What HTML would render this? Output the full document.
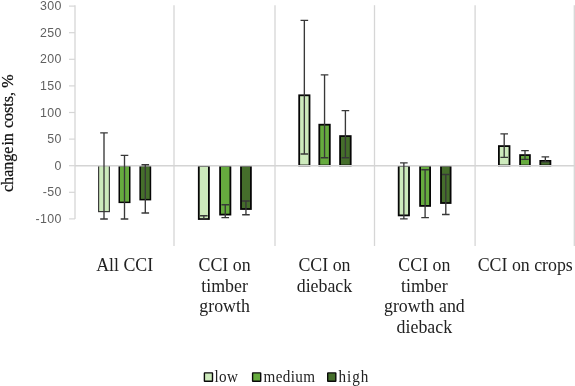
<!DOCTYPE html>
<html lang="en"><head><meta charset="utf-8"><title>Change in costs chart</title>
<style>html,body{margin:0;padding:0;background:#fff;}body{width:575px;height:386px;overflow:hidden;}svg{display:block;}.tick{font-family:"Liberation Sans",sans-serif;font-size:12.4px;fill:#606060;letter-spacing:0.4px;}.cat{font-family:"Liberation Serif",serif;font-size:18px;fill:#222;}.leg{font-family:"Liberation Serif",serif;font-size:16.3px;fill:#222;letter-spacing:0.4px;}.ttl{font-family:"Liberation Serif",serif;font-size:17px;fill:#111;stroke:#111;stroke-width:0.25px;}</style></head><body>
<svg width="575" height="386" viewBox="0 0 575 386">
<rect width="575" height="386" fill="#fff"/>
<line x1="75.00" y1="5.2" x2="75.00" y2="218.90" stroke="#d6d6d6" stroke-width="1.3"/>
<line x1="174.00" y1="5.2" x2="174.00" y2="246" stroke="#d6d6d6" stroke-width="1.3"/>
<line x1="275.00" y1="5.2" x2="275.00" y2="246" stroke="#d6d6d6" stroke-width="1.3"/>
<line x1="374.50" y1="5.2" x2="374.50" y2="246" stroke="#d6d6d6" stroke-width="1.3"/>
<line x1="475.10" y1="5.2" x2="475.10" y2="246" stroke="#d6d6d6" stroke-width="1.3"/>
<line x1="574.30" y1="5.2" x2="574.30" y2="246" stroke="#d6d6d6" stroke-width="1.3"/>
<line x1="69" y1="218.90" x2="75.0" y2="218.90" stroke="#d6d6d6" stroke-width="1.2"/>
<text class="tick" x="61.8" y="222.90" text-anchor="end">-100</text>
<line x1="69" y1="192.30" x2="75.0" y2="192.30" stroke="#d6d6d6" stroke-width="1.2"/>
<text class="tick" x="61.8" y="196.30" text-anchor="end">-50</text>
<line x1="69" y1="165.70" x2="75.0" y2="165.70" stroke="#d6d6d6" stroke-width="1.2"/>
<text class="tick" x="61.8" y="169.70" text-anchor="end">0</text>
<line x1="69" y1="139.10" x2="75.0" y2="139.10" stroke="#d6d6d6" stroke-width="1.2"/>
<text class="tick" x="61.8" y="143.10" text-anchor="end">50</text>
<line x1="69" y1="112.50" x2="75.0" y2="112.50" stroke="#d6d6d6" stroke-width="1.2"/>
<text class="tick" x="61.8" y="116.50" text-anchor="end">100</text>
<line x1="69" y1="85.90" x2="75.0" y2="85.90" stroke="#d6d6d6" stroke-width="1.2"/>
<text class="tick" x="61.8" y="89.90" text-anchor="end">150</text>
<line x1="69" y1="59.30" x2="75.0" y2="59.30" stroke="#d6d6d6" stroke-width="1.2"/>
<text class="tick" x="61.8" y="63.30" text-anchor="end">200</text>
<line x1="69" y1="32.70" x2="75.0" y2="32.70" stroke="#d6d6d6" stroke-width="1.2"/>
<text class="tick" x="61.8" y="36.70" text-anchor="end">250</text>
<line x1="69" y1="6.10" x2="75.0" y2="6.10" stroke="#d6d6d6" stroke-width="1.2"/>
<text class="tick" x="61.8" y="10.10" text-anchor="end">300</text>
<rect x="98.60" y="165.60" width="10.80" height="46.00" fill="#cdeabc" stroke="#3c3c3c" stroke-width="1.2"/>
<rect x="119.25" y="165.75" width="10.50" height="36.60" fill="#66ab3e" stroke="#060606" stroke-width="1.5"/>
<rect x="140.15" y="165.75" width="10.30" height="33.90" fill="#456e2b" stroke="#060606" stroke-width="1.5"/>
<rect x="198.80" y="165.90" width="10.10" height="53.10" fill="#cdeabc" stroke="#060606" stroke-width="1.8"/>
<rect x="220.10" y="165.90" width="10.30" height="48.70" fill="#66ab3e" stroke="#060606" stroke-width="1.8"/>
<rect x="241.00" y="165.90" width="9.90" height="43.10" fill="#456e2b" stroke="#060606" stroke-width="1.8"/>
<rect x="299.20" y="95.30" width="10.30" height="70.20" fill="#cdeabc" stroke="#060606" stroke-width="1.8"/>
<rect x="319.30" y="124.70" width="10.50" height="40.80" fill="#66ab3e" stroke="#060606" stroke-width="1.8"/>
<rect x="340.10" y="136.10" width="10.60" height="29.40" fill="#456e2b" stroke="#060606" stroke-width="1.8"/>
<rect x="398.70" y="165.90" width="10.30" height="49.50" fill="#cdeabc" stroke="#060606" stroke-width="1.8"/>
<rect x="420.10" y="165.90" width="10.00" height="40.00" fill="#66ab3e" stroke="#060606" stroke-width="1.8"/>
<rect x="441.00" y="165.90" width="9.60" height="37.10" fill="#456e2b" stroke="#060606" stroke-width="1.8"/>
<rect x="498.90" y="146.10" width="10.60" height="19.40" fill="#cdeabc" stroke="#060606" stroke-width="1.8"/>
<rect x="520.10" y="155.10" width="9.80" height="10.40" fill="#66ab3e" stroke="#060606" stroke-width="1.8"/>
<rect x="540.30" y="160.90" width="10.10" height="4.60" fill="#456e2b" stroke="#060606" stroke-width="1.8"/>
<line x1="75.0" y1="165.7" x2="574.30" y2="165.7" stroke="#d4d4d4" stroke-width="1.6"/>
<path d="M104.00 132.80V219.00M100.20 132.80H107.80M100.20 219.00H107.80" fill="none" stroke="#383838" stroke-width="1.35"/>
<path d="M124.50 155.30V219.00M120.70 155.30H128.30M120.70 219.00H128.30" fill="none" stroke="#383838" stroke-width="1.35"/>
<path d="M145.30 164.70V213.00M141.50 164.70H149.10M141.50 213.00H149.10" fill="none" stroke="#383838" stroke-width="1.35"/>
<path d="M203.85 215.70V218.80M200.05 215.70H207.65M200.05 218.80H207.65" fill="none" stroke="#383838" stroke-width="1.35"/>
<path d="M225.25 204.70V217.60M221.45 204.70H229.05M221.45 217.60H229.05" fill="none" stroke="#383838" stroke-width="1.35"/>
<path d="M245.95 201.00V214.70M242.15 201.00H249.75M242.15 214.70H249.75" fill="none" stroke="#383838" stroke-width="1.35"/>
<path d="M304.35 20.40V154.00M300.55 20.40H308.15M300.55 154.00H308.15" fill="none" stroke="#383838" stroke-width="1.35"/>
<path d="M324.55 74.90V157.70M320.75 74.90H328.35M320.75 157.70H328.35" fill="none" stroke="#383838" stroke-width="1.35"/>
<path d="M345.40 110.60V157.70M341.60 110.60H349.20M341.60 157.70H349.20" fill="none" stroke="#383838" stroke-width="1.35"/>
<path d="M403.85 162.80V218.80M400.05 162.80H407.65M400.05 218.80H407.65" fill="none" stroke="#383838" stroke-width="1.35"/>
<path d="M425.10 169.70V217.60M421.30 169.70H428.90M421.30 217.60H428.90" fill="none" stroke="#383838" stroke-width="1.35"/>
<path d="M445.80 174.50V214.50M442.00 174.50H449.60M442.00 214.50H449.60" fill="none" stroke="#383838" stroke-width="1.35"/>
<path d="M504.20 133.80V157.30M500.40 133.80H508.00M500.40 157.30H508.00" fill="none" stroke="#383838" stroke-width="1.35"/>
<path d="M525.00 150.60V159.30M521.20 150.60H528.80M521.20 159.30H528.80" fill="none" stroke="#383838" stroke-width="1.35"/>
<path d="M545.35 156.80V161.80M541.55 156.80H549.15M541.55 161.80H549.15" fill="none" stroke="#383838" stroke-width="1.35"/>
<text class="cat" transform="translate(124.65,271.10) scale(0.992,1)" text-anchor="middle">All CCI</text>
<text class="cat" transform="translate(224.55,271.10) scale(0.992,1)" text-anchor="middle">CCI on</text>
<text class="cat" transform="translate(224.55,291.65) scale(0.992,1)" text-anchor="middle">timber</text>
<text class="cat" transform="translate(224.55,312.20) scale(0.992,1)" text-anchor="middle">growth</text>
<text class="cat" transform="translate(324.45,271.10) scale(0.992,1)" text-anchor="middle">CCI on</text>
<text class="cat" transform="translate(324.45,291.65) scale(0.992,1)" text-anchor="middle">dieback</text>
<text class="cat" transform="translate(424.35,271.10) scale(0.992,1)" text-anchor="middle">CCI on</text>
<text class="cat" transform="translate(424.35,291.65) scale(0.992,1)" text-anchor="middle">timber</text>
<text class="cat" transform="translate(424.35,312.20) scale(0.992,1)" text-anchor="middle">growth and</text>
<text class="cat" transform="translate(424.35,332.75) scale(0.992,1)" text-anchor="middle">dieback</text>
<text class="cat" transform="translate(525.25,271.10) scale(0.992,1)" text-anchor="middle">CCI on crops</text>
<text class="ttl" transform="translate(12.5,192.0) rotate(-90) scale(0.945,1)">change<tspan dx="-3.2"> in</tspan><tspan dx="1.1"> costs,</tspan><tspan dx="0.3"> %</tspan></text>
<rect x="204.40" y="372.9" width="8.1" height="8.3" rx="0.3" fill="#cdeabc" stroke="#0a0a0a" stroke-width="1.4"/>
<text class="leg" transform="translate(214.50,381.5) scale(0.93,1)">low</text>
<rect x="252.60" y="372.9" width="8.1" height="8.3" rx="0.3" fill="#66ab3e" stroke="#0a0a0a" stroke-width="1.4"/>
<text class="leg" transform="translate(263.50,381.5) scale(0.93,1)">medium</text>
<rect x="327.70" y="372.9" width="8.1" height="8.3" rx="0.3" fill="#456e2b" stroke="#0a0a0a" stroke-width="1.4"/>
<text class="leg" transform="translate(338.60,381.5) scale(0.93,1)" style="letter-spacing:1px">high</text>
</svg></body></html>
